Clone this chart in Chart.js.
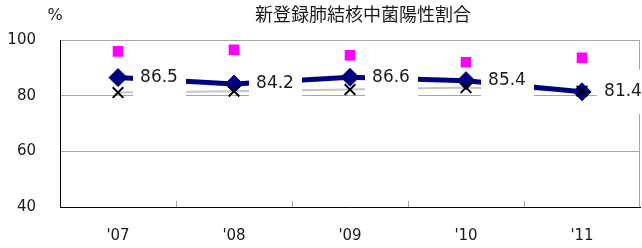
<!DOCTYPE html>
<html lang="ja">
<head>
<meta charset="UTF-8">
<title>新登録肺結核中菌陽性割合</title>
<script src="https://cdn.jsdelivr.net/npm/chart.js@4.4.1/dist/chart.umd.min.js"></script>
<style>
    html, body { margin: 0; padding: 0; background: #ffffff; }
    #chartWrap { position: relative; width: 642px; height: 248px; }
</style>
</head>
<body>
<div id="chartWrap"><canvas id="positiveChart"></canvas></div>
<script>
// Dados do gráfico
const years = ["'07", "'08", "'09", "'10", "'11"];
const positiveRate = [86.5, 84.2, 86.6, 85.4, 81.4];
const crossSeries = [81.1, 81.6, 82.2, 82.9, 81.6];
const squareSeries = [95.9, 96.5, 94.5, 92.0, 93.6];
const yTicks = [40, 60, 80, 100];

const chartTitle = '新登録肺結核中菌陽性割合';
const unitLabel = '%';

const NAVY = '#000080';
const PINK = '#ff00ff';
const GRID = '#a6a6a6';
const TEXT = '#1a1a1a';
const LATIN = '"DejaVu Sans", Verdana, sans-serif';
const CJK = '"Noto Sans CJK JP", "Noto Sans", sans-serif';

// Título, unidade e moldura do gráfico
const framePlugin = {
    id: 'frame',
    beforeDatasetsDraw(chart) {
        const { ctx, chartArea } = chart;
        const xScale = chart.scales.x;
        ctx.save();
        ctx.strokeStyle = GRID;
        ctx.lineWidth = 1;
        // borda direita
        ctx.beginPath();
        ctx.moveTo(Math.round(chartArea.right) - 0.5, chartArea.top);
        ctx.lineTo(Math.round(chartArea.right) - 0.5, chartArea.bottom);
        ctx.stroke();
        // marcas entre categorias, para dentro
        for (let i = 1; i < years.length; i++) {
            const x = Math.round((xScale.getPixelForValue(i - 1) + xScale.getPixelForValue(i)) / 2) + 0.5;
            ctx.beginPath();
            ctx.moveTo(x, chartArea.bottom);
            ctx.lineTo(x, chartArea.bottom - 6);
            ctx.stroke();
        }
        ctx.restore();
    },
    afterDraw(chart) {
        const ctx = chart.ctx;
        ctx.save();
        ctx.fillStyle = TEXT;
        ctx.textBaseline = 'middle';
        ctx.textAlign = 'center';
        ctx.font = '18px ' + CJK;
        ctx.fillText(chartTitle, 363, 14);
        ctx.font = '16px ' + LATIN;
        ctx.fillText(unitLabel, 55, 16);
        ctx.restore();
    }
};

// Rótulos de dados com fundo branco (cobrem linhas atrás)
const labelBoxPlugin = {
    id: 'labelBox',
    afterDatasetsDraw(chart) {
        const meta = chart.getDatasetMeta(1);
        const ctx = chart.ctx;
        ctx.save();
        ctx.font = '17px ' + LATIN;
        ctx.textAlign = 'center';
        ctx.textBaseline = 'middle';
        meta.data.forEach((pt, i) => {
            ctx.fillStyle = '#ffffff';
            ctx.fillRect(pt.x + 15, pt.y - 22, 53, 44);
            ctx.fillStyle = TEXT;
            ctx.fillText(positiveRate[i].toFixed(1), pt.x + 41, pt.y);
        });
        ctx.restore();
    }
};

const ctx = document.getElementById('positiveChart').getContext('2d');

new Chart(ctx, {
    type: 'line',
    data: {
        labels: years,
        datasets: [
            {
                // linha cinza da série X (fica atrás)
                data: crossSeries,
                borderColor: '#c4c4c4',
                borderWidth: 2,
                pointRadius: 0,
                order: 4
            },
            {
                data: positiveRate,
                borderColor: NAVY,
                backgroundColor: NAVY,
                borderWidth: 5,
                pointStyle: 'rectRot',
                pointRadius: 9,
                pointBorderWidth: 1,
                order: 3
            },
            {
                data: crossSeries,
                showLine: false,
                borderColor: '#000000',
                pointStyle: 'crossRot',
                pointRadius: 7.5,
                pointBorderWidth: 2,
                order: 1
            },
            {
                data: squareSeries,
                showLine: false,
                backgroundColor: PINK,
                borderColor: PINK,
                pointStyle: 'rect',
                pointRadius: 7.5,
                pointBorderWidth: 0,
                order: 0
            }
        ]
    },
    options: {
        responsive: true,
        maintainAspectRatio: false,
        animation: false,
        events: [],
        layout: { autoPadding: false, padding: { top: 40, right: 2, left: 0, bottom: 0 } },
        plugins: {
            legend: { display: false },
            title: { display: false },
            tooltip: { enabled: false }
        },
        scales: {
            x: {
                offset: true,
                grid: { display: false, drawTicks: false },
                border: { color: '#000000', width: 1 },
                ticks: { padding: 20, color: TEXT, font: { family: LATIN, size: 15 } },
                afterFit(scale) {
                    scale.height = 41;
                    scale.paddingLeft = 0;
                    scale.paddingRight = 0;
                }
            },
            y: {
                min: yTicks[0],
                max: yTicks[yTicks.length - 1],
                ticks: {
                    stepSize: yTicks[1] - yTicks[0],
                    padding: 24,
                    color: TEXT,
                    font: { family: LATIN, size: 15 }
                },
                grid: {
                    drawTicks: false,
                    color: c => (c.tick.value === yTicks[0] ? 'rgba(0,0,0,0)' : GRID)
                },
                border: { color: '#000000', width: 1 },
                afterFit(scale) { scale.width = 60; }
            }
        }
    },
    plugins: [framePlugin, labelBoxPlugin]
});
</script>
</body>
</html>
